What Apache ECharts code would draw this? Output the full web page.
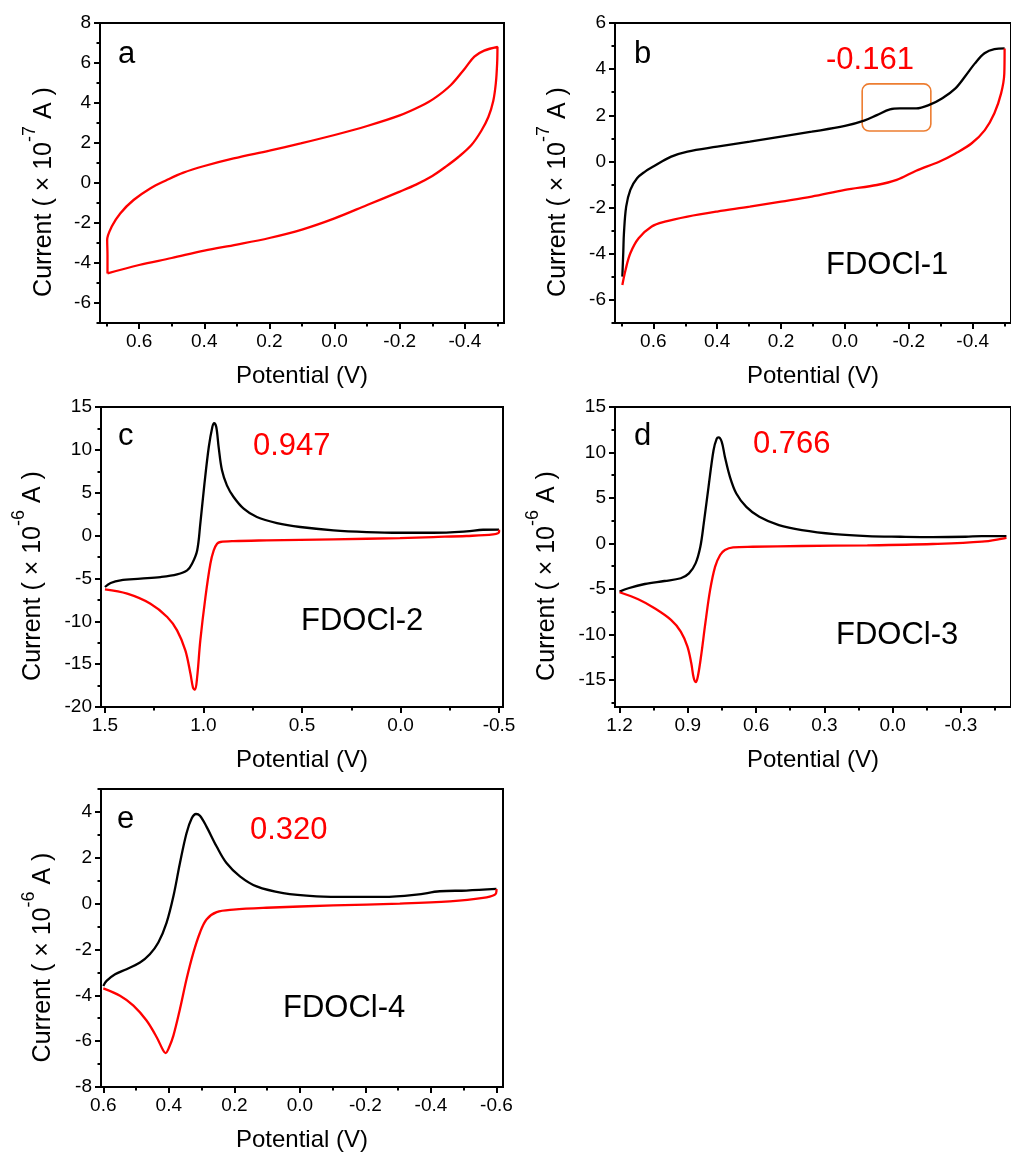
<!DOCTYPE html>
<html>
<head>
<meta charset="utf-8">
<script src="https://cdn.jsdelivr.net/npm/echarts@6/dist/echarts.min.js"></script>
<style>
  html, body { margin: 0; padding: 0; background: #fff; }
  #chart { width: 1011px; height: 1153px; }
</style>
</head>
<body>
<div id="chart"></div>
<script>
// --- data: [potential (V), current] ---
var aLoop = [[0.697,-4.52],[0.697,-3.6],[0.698,-2.85],[0.684,-2.18],[0.658,-1.52],[0.617,-0.85],[0.566,-0.27],[0.515,0.15],[0.464,0.52],[0.4,0.85],[0.31,1.23],[0.2,1.62],[0.104,1.98],[0.0,2.4],[-0.1,2.85],[-0.2,3.38],[-0.265,3.85],[-0.306,4.23],[-0.357,4.9],[-0.4,5.73],[-0.429,6.32],[-0.459,6.62],[-0.5,6.8],
  [-0.499,6.0],[-0.495,5.0],[-0.487,4.1],[-0.472,3.3],[-0.45,2.6],[-0.42,1.9],[-0.38,1.3],[-0.34,0.8],[-0.3,0.35],[-0.25,-0.08],[-0.2,-0.43],[-0.1,-1.1],[0.0,-1.77],[0.1,-2.33],[0.2,-2.75],[0.3,-3.08],[0.4,-3.38],[0.5,-3.75],[0.6,-4.1],[0.697,-4.52]];

var bForward = [[0.697,-4.99],[0.694,-3.9],[0.692,-3.11],[0.685,-1.96],[0.672,-1.23],[0.651,-0.73],[0.626,-0.44],[0.6,-0.22],[0.544,0.21],[0.493,0.43],[0.4,0.64],[0.298,0.86],[0.2,1.08],[0.104,1.29],[0.0,1.54],[-0.06,1.77],[-0.1,2.01],[-0.141,2.26],[-0.172,2.3],[-0.223,2.3],[-0.264,2.45],[-0.305,2.74],[-0.346,3.17],[-0.376,3.68],[-0.407,4.25],[-0.437,4.69],[-0.468,4.87],[-0.5,4.9]];
var bReverse = [[-0.5,4.9],[-0.499,3.8],[-0.489,2.95],[-0.468,2.09],[-0.438,1.36],[-0.397,0.79],[-0.346,0.35],[-0.295,-0.01],[-0.223,-0.4],[-0.162,-0.8],[-0.1,-1.02],[0.0,-1.23],[0.104,-1.52],[0.2,-1.74],[0.298,-1.96],[0.4,-2.17],[0.493,-2.39],[0.564,-2.61],[0.605,-2.82],[0.646,-3.33],[0.672,-3.98],[0.687,-4.7],[0.697,-5.35]];

var cForward = [[1.5,-6.0],[1.471,-5.54],[1.421,-5.22],[1.319,-5.03],[1.218,-4.84],[1.134,-4.53],[1.083,-4.06],[1.058,-3.28],[1.032,-1.73],[1.016,1.39],[0.995,6.05],[0.973,10.33],[0.955,12.67],[0.946,13.13],[0.935,12.67],[0.923,10.33],[0.906,7.61],[0.881,5.86],[0.847,4.5],[0.796,3.14],[0.729,2.16],[0.627,1.46],[0.509,1.0],[0.34,0.61],[0.172,0.41],[0.003,0.33],[-0.166,0.33],[-0.335,0.49],[-0.419,0.68],[-0.5,0.7]];
var cReverse = [[-0.5,0.68],[-0.5,0.41],[-0.47,0.14],[-0.335,-0.05],[-0.166,-0.17],[0.003,-0.29],[0.34,-0.44],[0.678,-0.56],[0.847,-0.64],[0.914,-0.75],[0.931,-0.95],[0.948,-1.72],[0.965,-3.28],[0.99,-7.17],[1.016,-12.23],[1.032,-16.5],[1.043,-17.98],[1.053,-17.75],[1.066,-16.12],[1.092,-13.39],[1.134,-11.06],[1.184,-9.5],[1.269,-7.95],[1.387,-6.78],[1.5,-6.28]];

var dForward = [[1.2,-5.31],[1.161,-4.94],[1.089,-4.47],[1.003,-4.14],[0.931,-3.84],[0.895,-3.3],[0.866,-2.2],[0.845,-0.37],[0.83,2.2],[0.809,6.22],[0.787,10.24],[0.773,11.52],[0.765,11.65],[0.751,11.16],[0.737,9.51],[0.715,7.32],[0.687,5.49],[0.643,4.02],[0.586,2.93],[0.5,2.01],[0.399,1.46],[0.255,1.02],[0.111,0.8],[-0.033,0.73],[-0.176,0.69],[-0.32,0.73],[-0.392,0.8],[-0.5,0.8]];
var dReverse = [[-0.5,0.6],[-0.49,0.55],[-0.392,0.18],[-0.176,-0.07],[0.111,-0.22],[0.399,-0.29],[0.615,-0.37],[0.701,-0.44],[0.737,-0.73],[0.758,-1.28],[0.78,-2.56],[0.802,-5.12],[0.823,-8.78],[0.842,-12.44],[0.856,-14.64],[0.865,-15.26],[0.874,-14.82],[0.885,-13.17],[0.902,-11.34],[0.931,-9.7],[0.974,-8.42],[1.046,-7.14],[1.118,-6.15],[1.2,-5.38]];

var eForward = [[0.6,-3.59],[0.59,-3.37],[0.564,-3.08],[0.529,-2.86],[0.488,-2.57],[0.458,-2.21],[0.432,-1.7],[0.407,-0.84],[0.386,0.32],[0.366,1.77],[0.346,3.07],[0.33,3.72],[0.317,3.91],[0.305,3.83],[0.285,3.36],[0.254,2.49],[0.224,1.77],[0.183,1.19],[0.132,0.75],[0.051,0.46],[-0.051,0.32],[-0.153,0.29],[-0.254,0.29],[-0.356,0.39],[-0.427,0.54],[-0.508,0.57],[-0.6,0.64]];
var eReverse = [[-0.6,0.64],[-0.6,0.54],[-0.595,0.39],[-0.559,0.25],[-0.458,0.1],[-0.305,0.0],[-0.102,-0.08],[0.102,-0.18],[0.203,-0.26],[0.254,-0.37],[0.285,-0.69],[0.305,-1.27],[0.325,-2.14],[0.346,-3.3],[0.366,-4.6],[0.386,-5.76],[0.4,-6.3],[0.41,-6.52],[0.417,-6.41],[0.437,-5.83],[0.468,-5.1],[0.508,-4.45],[0.549,-4.02],[0.6,-3.7]];

// tick values
var abXTicks = [0.6, 0.4, 0.2, 0.0, -0.2, -0.4];
var abXMinor = [0.7, 0.5, 0.3, 0.1, -0.1, -0.3, -0.5];
var aYTicks = [-6, -4, -2, 0, 2, 4, 6, 8];
var aYMinor = [-7, -5, -3, -1, 1, 3, 5, 7];
var bYTicks = [-6, -4, -2, 0, 2, 4, 6];
var bYMinor = [-7, -5, -3, -1, 1, 3, 5];
var cXTicks = [1.5, 1.0, 0.5, 0.0, -0.5];
var cXMinor = [1.25, 0.75, 0.25, -0.25];
var cYTicks = [-20, -15, -10, -5, 0, 5, 10, 15];
var cYMinor = [-17.5, -12.5, -7.5, -2.5, 2.5, 7.5, 12.5];
var dXTicks = [1.2, 0.9, 0.6, 0.3, 0.0, -0.3];
var dXMinor = [1.05, 0.75, 0.45, 0.15, -0.15, -0.45];
var dYTicks = [-15, -10, -5, 0, 5, 10, 15];
var dYMinor = [-17.5, -12.5, -7.5, -2.5, 2.5, 7.5, 12.5];
var eXTicks = [0.6, 0.4, 0.2, 0.0, -0.2, -0.4, -0.6];
var eXMinor = [0.5, 0.3, 0.1, -0.1, -0.3, -0.5];
var eYTicks = [-8, -6, -4, -2, 0, 2, 4];
var eYMinor = [-7, -5, -3, -1, 1, 3, 5];

// texts
var panelLetters = ['a', 'b', 'c', 'd', 'e'];
var unitExp = ['-7', '-7', '-6', '-6', '-6'];
var peakLabels = ['-0.161', '0.947', '0.766', '0.320'];
var sampleNames = ['FDOCl-1', 'FDOCl-2', 'FDOCl-3', 'FDOCl-4'];
var bBox = [[-0.054, 3.36], [-0.269, 1.32]];

var RED = '#ff0000', INK = '#000000', FONT = '"Liberation Sans", Arial, sans-serif';

var panels = [
  { grid: { left: 100, top: 23, width: 404, height: 300 }, x: [-0.52, 0.72], y: [-7, 8],
    xt: abXTicks, xm: abXMinor, yt: aYTicks, ym: aYMinor, gap: 56,
    series: [[aLoop, RED]] },
  { grid: { left: 615, top: 23, width: 403, height: 300 }, x: [-0.52, 0.72], y: [-7, 6],
    xt: abXTicks, xm: abXMinor, yt: bYTicks, ym: bYMinor, gap: 57,
    series: [[bForward, INK], [bReverse, RED]] },
  { grid: { left: 101, top: 407, width: 402, height: 300 }, x: [-0.52, 1.52], y: [-20, 15],
    xt: cXTicks, xm: cXMinor, yt: cYTicks, ym: cYMinor, gap: 68,
    series: [[cForward, INK], [cReverse, RED]] },
  { grid: { left: 615, top: 407, width: 403, height: 300 }, x: [-0.52, 1.22], y: [-18, 15],
    xt: dXTicks, xm: dXMinor, yt: dYTicks, ym: dYMinor, gap: 68,
    series: [[dForward, INK], [dReverse, RED]] },
  { grid: { left: 101, top: 789, width: 402, height: 299 }, x: [-0.62, 0.607], y: [-8, 5],
    xt: eXTicks, xm: eXMinor, yt: eYTicks, ym: eYMinor, gap: 58,
    series: [[eForward, INK], [eReverse, RED]] }
];

// in-plot text positions (left, middle)
var letterPos = [[118, 54], [634, 54], [118, 436], [634, 436], [117, 819]];
var peakPos = [[826, 60], [253, 446], [753, 444], [250, 830]];
var namePos = [[826, 265], [301, 621], [836, 635], [283, 1008]];

var chart = echarts.init(document.getElementById('chart'));

var grids = [], xAxes = [], yAxes = [], series = [], graphics = [];

panels.forEach(function(p, i) {
  grids.push(Object.assign({ show: true, borderColor: INK, borderWidth: 2, backgroundColor: 'transparent' }, p.grid));

  var xBase = { type: 'value', gridIndex: i, min: p.x[0], max: p.x[1], inverse: true, position: 'bottom', splitLine: { show: false } };
  xAxes.push(Object.assign({}, xBase, {
    axisLine: { show: true, onZero: false, lineStyle: { color: INK, width: 2 } },
    axisTick: { show: true, inside: false, length: 6, lineStyle: { color: INK, width: 2 }, customValues: p.xt },
    axisLabel: { customValues: p.xt, color: INK, fontSize: 19, fontFamily: FONT, margin: 9,
      formatter: function(v) { return v.toFixed(1); } },
    name: 'Potential (V)', nameLocation: 'middle', nameGap: 41,
    nameTextStyle: { color: INK, fontSize: 24, fontFamily: FONT }
  }));
  xAxes.push(Object.assign({}, xBase, {
    axisLine: { show: false, onZero: false }, axisLabel: { show: false },
    axisTick: { show: true, inside: false, length: 3.5, lineStyle: { color: INK, width: 2 }, customValues: p.xm }
  }));

  var yBase = { type: 'value', gridIndex: i, min: p.y[0], max: p.y[1], position: 'left', splitLine: { show: false } };
  yAxes.push(Object.assign({}, yBase, {
    axisLine: { show: true, onZero: false, lineStyle: { color: INK, width: 2 } },
    axisTick: { show: true, inside: false, length: 6, lineStyle: { color: INK, width: 2 }, customValues: p.yt },
    axisLabel: { customValues: p.yt, color: INK, fontSize: 19, fontFamily: FONT, margin: 9 }
  }));
  yAxes.push(Object.assign({}, yBase, {
    axisLine: { show: false, onZero: false }, axisLabel: { show: false },
    axisTick: { show: true, inside: false, length: 3.5, lineStyle: { color: INK, width: 2 }, customValues: p.ym }
  }));

  p.series.forEach(function(s) {
    series.push({
      type: 'line', xAxisIndex: i * 2, yAxisIndex: i * 2, data: s[0],
      showSymbol: false, smooth: 0.35, silent: true,
      lineStyle: { color: s[1], width: 2.3 }
    });
  });

  // y axis title with superscript exponent
  graphics.push({
    type: 'text', x: p.grid.left - p.gap, y: p.grid.top + p.grid.height / 2 + 19, rotation: Math.PI / 2,
    style: {
      text: 'Current ( × 10{sup|' + unitExp[i] + '} A )',
      fontSize: 25, fontFamily: FONT, fill: INK, align: 'center', verticalAlign: 'middle', lineHeight: 46,
      rich: { sup: { fontSize: 18, fontFamily: FONT, fill: INK, verticalAlign: 'top', lineHeight: 46 } }
    }
  });

  graphics.push({
    type: 'text', x: letterPos[i][0], y: letterPos[i][1],
    style: { text: panelLetters[i], fontSize: 31, fontFamily: FONT, fill: INK, align: 'left', verticalAlign: 'middle' }
  });
});

peakLabels.forEach(function(t, i) {
  graphics.push({
    type: 'text', x: peakPos[i][0], y: peakPos[i][1],
    style: { text: t, fontSize: 31, fontFamily: FONT, fill: RED, align: 'left', verticalAlign: 'middle' }
  });
  graphics.push({
    type: 'text', x: namePos[i][0], y: namePos[i][1],
    style: { text: sampleNames[i], fontSize: 31, fontFamily: FONT, fill: INK, align: 'left', verticalAlign: 'middle' }
  });
});

chart.setOption({
  backgroundColor: '#fff',
  animation: false,
  grid: grids,
  xAxis: xAxes,
  yAxis: yAxes,
  series: series,
  graphic: graphics
});

// highlight box in panel b, placed from data coordinates
var p0 = chart.convertToPixel({ gridIndex: 1 }, bBox[0]);
var p1 = chart.convertToPixel({ gridIndex: 1 }, bBox[1]);
chart.setOption({
  graphic: graphics.concat([{
    type: 'rect',
    shape: { x: Math.min(p0[0], p1[0]), y: Math.min(p0[1], p1[1]), width: Math.abs(p1[0] - p0[0]), height: Math.abs(p1[1] - p0[1]), r: 7 },
    style: { fill: 'none', stroke: '#ed7d31', lineWidth: 1.6 }
  }])
});
</script>
</body>
</html>
